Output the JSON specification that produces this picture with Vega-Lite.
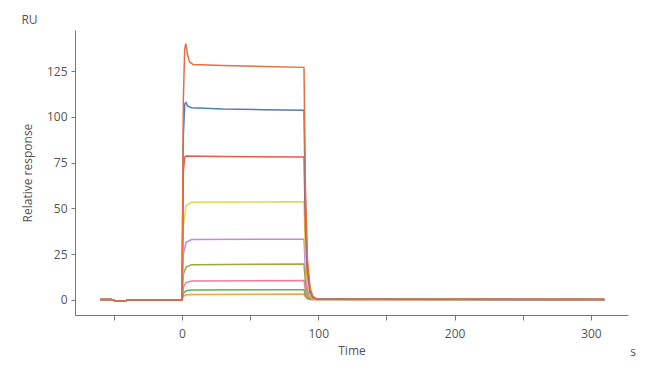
{
  "$schema": "https://vega.github.io/schema/vega-lite/v6.json",
  "width": 553,
  "height": 285,
  "autosize": "none",
  "padding": {"left": 75, "top": 30, "right": 22, "bottom": 58},
  "background": "white",
  "config": {"view": {"stroke": null}, "font": "Open Sans"},
  "title": {"text": "RU", "anchor": "start", "frame": "bounds", "fontSize": 12, "fontWeight": "normal", "color": "#555555", "offset": 3},
  "layer": [
    {
      "data": {"values": [
        {"s":"c9","t":-60,"v":0.3},{"s":"c9","t":-52,"v":0.2},{"s":"c9","t":-49,"v":-0.4},{"s":"c9","t":-42,"v":-0.6},{"s":"c9","t":-40,"v":0},{"s":"c9","t":0,"v":0},{"s":"c9","t":1,"v":2},{"s":"c9","t":3,"v":2.8},{"s":"c9","t":7,"v":3},{"s":"c9","t":89.5,"v":3.2},{"s":"c9","t":90.5,"v":1.6},{"s":"c9","t":92,"v":0.6},{"s":"c9","t":94,"v":0.25},{"s":"c9","t":96,"v":0.2},{"s":"c9","t":310,"v":0.2},
        {"s":"c8","t":-60,"v":0.3},{"s":"c8","t":-52,"v":0.2},{"s":"c8","t":-49,"v":-0.4},{"s":"c8","t":-42,"v":-0.6},{"s":"c8","t":-40,"v":0},{"s":"c8","t":0,"v":0},{"s":"c8","t":1,"v":3.5},{"s":"c8","t":3,"v":5},{"s":"c8","t":7,"v":5.5},{"s":"c8","t":89.5,"v":5.6},{"s":"c8","t":90.5,"v":2.8},{"s":"c8","t":92,"v":1},{"s":"c8","t":94,"v":0.4},{"s":"c8","t":96,"v":0.2},{"s":"c8","t":310,"v":0.2},
        {"s":"c7","t":-60,"v":0.3},{"s":"c7","t":-52,"v":0.2},{"s":"c7","t":-49,"v":-0.4},{"s":"c7","t":-42,"v":-0.6},{"s":"c7","t":-40,"v":0},{"s":"c7","t":0,"v":0},{"s":"c7","t":1,"v":7},{"s":"c7","t":3,"v":9.5},{"s":"c7","t":7,"v":10.3},{"s":"c7","t":89.5,"v":10.6},{"s":"c7","t":90.5,"v":5.3},{"s":"c7","t":92,"v":1.9},{"s":"c7","t":94,"v":0.6},{"s":"c7","t":96,"v":0.3},{"s":"c7","t":310,"v":0.2},
        {"s":"c6","t":-60,"v":0.3},{"s":"c6","t":-52,"v":0.2},{"s":"c6","t":-49,"v":-0.4},{"s":"c6","t":-42,"v":-0.6},{"s":"c6","t":-40,"v":0},{"s":"c6","t":0,"v":0},{"s":"c6","t":1,"v":14},{"s":"c6","t":3,"v":18},{"s":"c6","t":7,"v":19.3},{"s":"c6","t":89.5,"v":19.6},{"s":"c6","t":90.5,"v":9.8},{"s":"c6","t":92,"v":3.5},{"s":"c6","t":94,"v":1},{"s":"c6","t":96,"v":0.4},{"s":"c6","t":310,"v":0.2},
        {"s":"c5","t":-60,"v":0.3},{"s":"c5","t":-52,"v":0.2},{"s":"c5","t":-49,"v":-0.4},{"s":"c5","t":-42,"v":-0.6},{"s":"c5","t":-40,"v":0},{"s":"c5","t":0,"v":0},{"s":"c5","t":1,"v":25},{"s":"c5","t":3,"v":31.5},{"s":"c5","t":7,"v":33},{"s":"c5","t":89.5,"v":33.2},{"s":"c5","t":90.5,"v":16.6},{"s":"c5","t":92,"v":6},{"s":"c5","t":94,"v":1.7},{"s":"c5","t":96,"v":0.6},{"s":"c5","t":99,"v":0.3},{"s":"c5","t":310,"v":0.2},
        {"s":"c4","t":-60,"v":0.3},{"s":"c4","t":-52,"v":0.2},{"s":"c4","t":-49,"v":-0.4},{"s":"c4","t":-42,"v":-0.6},{"s":"c4","t":-40,"v":0},{"s":"c4","t":0,"v":0},{"s":"c4","t":1,"v":40},{"s":"c4","t":3,"v":51.5},{"s":"c4","t":7,"v":53.3},{"s":"c4","t":89.5,"v":53.6},{"s":"c4","t":90.5,"v":26.8},{"s":"c4","t":92,"v":9.6},{"s":"c4","t":94,"v":2.7},{"s":"c4","t":96,"v":0.8},{"s":"c4","t":99,"v":0.3},{"s":"c4","t":310,"v":0.2},
        {"s":"c3","t":-60,"v":0.3},{"s":"c3","t":-52,"v":0.2},{"s":"c3","t":-49,"v":-0.4},{"s":"c3","t":-42,"v":-0.6},{"s":"c3","t":-40,"v":0},{"s":"c3","t":0,"v":0},{"s":"c3","t":1,"v":70},{"s":"c3","t":2,"v":78},{"s":"c3","t":3,"v":78.6},{"s":"c3","t":30,"v":78.3},{"s":"c3","t":89.5,"v":78},{"s":"c3","t":90.5,"v":39},{"s":"c3","t":92,"v":14},{"s":"c3","t":94,"v":3.9},{"s":"c3","t":96,"v":1.2},{"s":"c3","t":99,"v":0.4},{"s":"c3","t":310,"v":0.2},
        {"s":"c2","t":-60,"v":0.3},{"s":"c2","t":-52,"v":0.2},{"s":"c2","t":-49,"v":-0.4},{"s":"c2","t":-42,"v":-0.6},{"s":"c2","t":-40,"v":0},{"s":"c2","t":0,"v":0},{"s":"c2","t":1,"v":90},{"s":"c2","t":2,"v":107},{"s":"c2","t":3,"v":107.8},{"s":"c2","t":4,"v":106},{"s":"c2","t":7,"v":105},{"s":"c2","t":30,"v":104.3},{"s":"c2","t":60,"v":103.9},{"s":"c2","t":89.5,"v":103.6},{"s":"c2","t":90.5,"v":51.8},{"s":"c2","t":92,"v":18.6},{"s":"c2","t":94,"v":5.2},{"s":"c2","t":96,"v":1.6},{"s":"c2","t":99,"v":0.5},{"s":"c2","t":310,"v":0.2},
        {"s":"c1","t":-60,"v":0.3},{"s":"c1","t":-52,"v":0.2},{"s":"c1","t":-49,"v":-0.4},{"s":"c1","t":-42,"v":-0.6},{"s":"c1","t":-40,"v":0},{"s":"c1","t":0,"v":0},{"s":"c1","t":1,"v":110},{"s":"c1","t":2,"v":137},{"s":"c1","t":2.8,"v":140},{"s":"c1","t":4,"v":134},{"s":"c1","t":5.5,"v":130},{"s":"c1","t":8,"v":128.6},{"s":"c1","t":30,"v":128},{"s":"c1","t":60,"v":127.5},{"s":"c1","t":89.5,"v":127},{"s":"c1","t":90.5,"v":63.5},{"s":"c1","t":92,"v":22.9},{"s":"c1","t":94,"v":6.4},{"s":"c1","t":96,"v":1.9},{"s":"c1","t":99,"v":0.6},{"s":"c1","t":310,"v":0.2}
      ]},
      "mark": {"type": "line", "strokeWidth": 1.5, "clip": false},
      "encoding": {
        "x": {"field": "t", "type": "quantitative",
          "scale": {"domain": [-78.5, 327.2], "nice": false, "zero": false},
          "axis": {"title": "Time", "values": [-50, 0, 50, 100, 150, 200, 250, 300],
            "labelExpr": "datum.value % 100 == 0 ? datum.label : ''",
            "grid": false, "domainColor": "#777777", "tickColor": "#777777", "tickSize": 5,
            "labelColor": "#555555", "labelFontSize": 12, "labelPadding": 8,
            "titleColor": "#555555", "titleFontSize": 12, "titleFontWeight": "normal", "titlePadding": 6}},
        "y": {"field": "v", "type": "quantitative",
          "scale": {"domain": [-8.2, 147.4], "nice": false, "zero": false},
          "axis": {"title": "Relative response", "values": [0, 12.5, 25, 37.5, 50, 62.5, 75, 87.5, 100, 112.5, 125, 137.5],
            "labelExpr": "datum.value % 25 == 0 ? datum.label : ''",
            "grid": false, "domainColor": "#777777", "tickColor": "#777777", "tickSize": 4,
            "labelColor": "#555555", "labelFontSize": 12, "labelPadding": 4,
            "titleColor": "#555555", "titleFontSize": 12, "titleFontWeight": "normal", "titlePadding": 12}},
        "color": {"field": "s", "type": "nominal", "legend": null,
          "scale": {"domain": ["c9","c8","c7","c6","c5","c4","c3","c2","c1"],
            "range": ["#f4a43c", "#56b45a", "#f37c9c", "#a3a442", "#c48bd4", "#e6d64e", "#e85a50", "#5479bd", "#e4703f"]}}
      }
    },
    {
      "data": {"values": [{"unit": "s"}]},
      "mark": {"type": "text", "fontSize": 12, "color": "#555555", "align": "center", "baseline": "middle", "clip": false},
      "encoding": {
        "x": {"datum": 331, "type": "quantitative"},
        "y": {"datum": -28.4, "type": "quantitative"},
        "text": {"field": "unit"}
      }
    }
  ]
}
